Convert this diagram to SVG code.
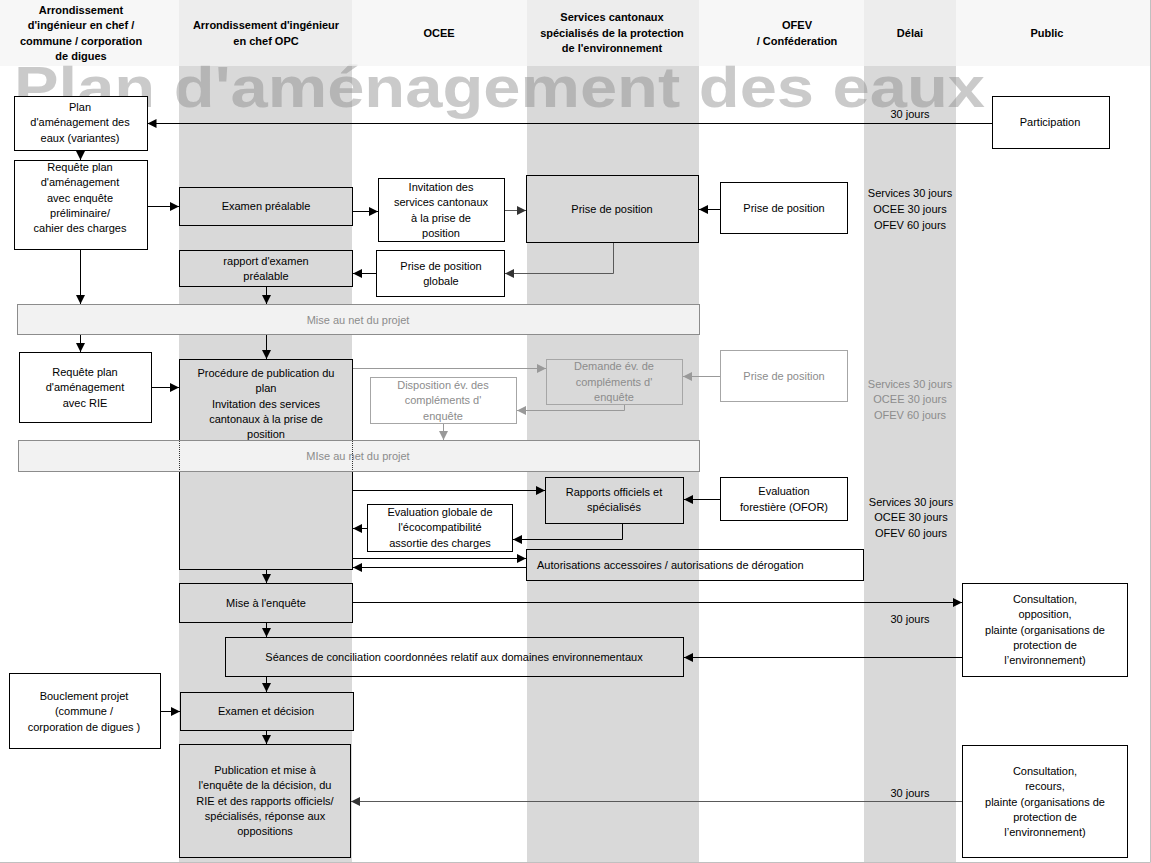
<svg xmlns="http://www.w3.org/2000/svg" width="1151" height="863" viewBox="0 0 1151 863">
<defs>
<style>
text{font-family:"Liberation Sans",Arial,sans-serif;font-size:11px;fill:#000;text-anchor:middle}
.h{font-weight:bold;font-size:11px}
.b{fill:#fff;stroke:#000;stroke-width:1}
.g{fill:#d9d9d9;stroke:#000;stroke-width:1}
.t{fill:none;stroke:#000;stroke-width:1}
.lg{fill:#fff;stroke:#a6a6a6;stroke-width:1}
.lgt{fill:#8c8c8c}
.band{fill:#f2f2f2;stroke:#8c8c8c;stroke-width:1}
.c{fill:none;stroke:#000;stroke-width:1;marker-end:url(#ah)}
.cd{fill:none;stroke:#595959;stroke-width:1;marker-end:url(#ahd)}
.cl{fill:none;stroke:#999;stroke-width:1;marker-end:url(#ahl)}
</style>
<marker id="ah" markerUnits="userSpaceOnUse" markerWidth="9" markerHeight="9" refX="9" refY="4.5" orient="auto"><path d="M0,0 L9,4.5 L0,9 z" fill="#000"/></marker>
<marker id="ahd" markerUnits="userSpaceOnUse" markerWidth="9" markerHeight="9" refX="9" refY="4.5" orient="auto"><path d="M0,0 L9,4.5 L0,9 z" fill="#333"/></marker>
<marker id="ahl" markerUnits="userSpaceOnUse" markerWidth="9" markerHeight="9" refX="9" refY="4.5" orient="auto"><path d="M0,0 L9,4.5 L0,9 z" fill="#999"/></marker>
</defs>
<rect x="0" y="0" width="1151" height="863" fill="#fff"/>
<g id="lanes">
<rect x="179" y="0" width="173" height="863" fill="#d9d9d9"/>
<rect x="527" y="0" width="172" height="863" fill="#d9d9d9"/>
<rect x="864" y="0" width="92" height="863" fill="#d9d9d9"/>
</g>
<text x="14" y="107" style="font-size:58px;font-weight:bold;text-anchor:start;fill:#8a8a8a;fill-opacity:0.45" textLength="971" lengthAdjust="spacingAndGlyphs">Plan d'aménagement des eaux</text>
<rect x="0" y="0" width="1151" height="66" fill="#f4f4f4" fill-opacity="0.72"/>
<g id="header">
<text class="h" x="81" y="14">Arrondissement</text>
<text class="h" x="81" y="29">d'ingénieur en chef /</text>
<text class="h" x="81" y="45">commune / corporation</text>
<text class="h" x="81" y="60">de digues</text>
<text class="h" x="266" y="29">Arrondissement d'ingénieur</text>
<text class="h" x="266" y="45">en chef OPC</text>
<text class="h" x="439" y="37">OCEE</text>
<text class="h" x="612" y="21">Services cantonaux</text>
<text class="h" x="612" y="37">spécialisés de la protection</text>
<text class="h" x="612" y="52">de l'environnement</text>
<text class="h" x="797" y="29">OFEV</text>
<text class="h" x="797" y="45">/ Conféderation</text>
<text class="h" x="910" y="37">Délai</text>
<text class="h" x="1047" y="37">Public</text>
</g>
<g id="n-plan"><rect class="b" x="14.5" y="96.5" width="133" height="54"/>
<text x="80" y="111">Plan</text><text x="80" y="126">d'aménagement des</text><text x="80" y="142">eaux (variantes)</text></g>
<g id="n-participation"><rect class="b" x="992.5" y="96.5" width="117" height="52"/>
<text x="1050" y="126">Participation</text></g>
<g id="n-requete1"><rect class="b" x="14.5" y="160.5" width="133" height="89"/>
<text x="80" y="171">Requête  plan</text><text x="80" y="186">d'aménagement</text><text x="80" y="202">avec enquête</text><text x="80" y="217">préliminaire/</text><text x="80" y="232">cahier des charges</text></g>
<g id="n-examen"><rect class="g" x="179.5" y="187.5" width="173" height="38"/>
<text x="266" y="210">Examen préalable</text></g>
<g id="n-invitation"><rect class="b" x="378.5" y="178.5" width="126" height="63"/>
<text x="441" y="191">Invitation des</text><text x="441" y="206">services cantonaux</text><text x="441" y="222">à la prise de</text><text x="441" y="237">position</text></g>
<g id="n-prise-svc"><rect class="g" x="526.5" y="175.5" width="172" height="67"/>
<text x="612" y="213">Prise de position</text></g>
<g id="n-prise-ofev"><rect class="b" x="720.5" y="182.5" width="127" height="51"/>
<text x="784" y="212">Prise de position</text></g>
<g id="n-delai1"><text x="910" y="197">Services 30 jours</text><text x="910" y="213">OCEE 30 jours</text><text x="910" y="229">OFEV 60 jours</text></g>
<g id="n-rapport"><rect class="g" x="179.5" y="250.5" width="173" height="36"/>
<text x="266" y="265">rapport d'examen</text><text x="266" y="280">préalable</text></g>
<g id="n-globale"><rect class="b" x="376.5" y="250.5" width="128" height="46"/>
<text x="441" y="270">Prise de position</text><text x="441" y="285">globale</text></g>
<g id="n-miseaunet1"><rect class="band" x="17.5" y="304.5" width="682" height="30"/>
<text x="358" y="324" class="lgt">Mise au net du projet</text></g>
<g id="n-requete2"><rect class="b" x="19.5" y="352.5" width="132" height="70"/>
<text x="85" y="376">Requête  plan</text><text x="85" y="391">d'aménagement</text><text x="85" y="407">avec  RIE</text></g>
<g id="n-procedure"><rect class="g" x="179.5" y="359.5" width="173" height="210"/>
<text x="266" y="377">Procédure de publication du</text><text x="266" y="392">plan</text><text x="266" y="408">Invitation des services</text><text x="266" y="423">cantonaux à la prise de</text><text x="266" y="438">position</text></g>
<g id="n-miseaunet2"><rect class="band" x="18.5" y="440.5" width="681" height="31"/>
<line x1="179.5" y1="441" x2="179.5" y2="471" stroke="#333" stroke-dasharray="1,1"/>
<line x1="352.5" y1="441" x2="352.5" y2="471" stroke="#333" stroke-dasharray="1,1"/>
<text x="358" y="460" class="lgt">MIse au net du projet</text></g>
<g id="n-demande"><rect class="lg" x="546.5" y="359.5" width="136" height="45" style="fill:none"/>
<text x="614" y="370" class="lgt">Demande év. de</text><text x="614" y="386" class="lgt">compléments d'</text><text x="614" y="401" class="lgt">enquête</text></g>
<g id="n-disposition"><rect class="lg" x="370.5" y="377.5" width="146" height="46"/>
<text x="443" y="389" class="lgt">Disposition év. des</text><text x="443" y="404" class="lgt">compléments d'</text><text x="443" y="420" class="lgt">enquête</text></g>
<g id="n-prise-ofev2"><rect class="lg" x="720.5" y="350.5" width="127" height="51"/>
<text x="784" y="380" class="lgt">Prise de position</text></g>
<g id="n-delai2"><text x="910" y="388" class="lgt">Services 30 jours</text><text x="910" y="403" class="lgt">OCEE 30 jours</text><text x="910" y="419" class="lgt">OFEV 60 jours</text></g>
<g id="n-rapports"><rect class="g" x="545.5" y="477.5" width="138" height="46"/>
<text x="614" y="496">Rapports officiels et</text><text x="614" y="511">spécialisés</text></g>
<g id="n-forestiere"><rect class="b" x="720.5" y="477.5" width="127" height="43"/>
<text x="784" y="495">Evaluation</text><text x="784" y="511">forestière  (OFOR)</text></g>
<g id="n-delai3"><text x="911" y="506">Services 30 jours</text><text x="911" y="521">OCEE 30 jours</text><text x="911" y="537">OFEV 60 jours</text></g>
<g id="n-evaluation"><rect class="b" x="367.5" y="504.5" width="145" height="47"/>
<text x="440" y="516">Evaluation globale de</text><text x="440" y="531">l'écocompatibilité</text><text x="440" y="547">assortie des charges</text></g>
<g id="n-autorisations"><rect class="t" x="526.5" y="549.5" width="337" height="31"/>
<text x="537" y="569" style="text-anchor:start">Autorisations accessoires  / autorisations de dérogation</text></g>
<g id="n-enquete"><rect class="g" x="179.5" y="583.5" width="173" height="39"/>
<text x="266" y="607">Mise à l'enquête</text></g>
<g id="n-consultation1"><rect class="b" x="962.5" y="583.5" width="165" height="93"/>
<text x="1045" y="603">Consultation,</text><text x="1045" y="618">opposition,</text><text x="1045" y="634">plainte (organisations de</text><text x="1045" y="649">protection de</text><text x="1045" y="664">l’environnement)</text></g>
<g id="n-seances"><rect class="t" x="225.5" y="637.5" width="458" height="39"/>
<text x="454" y="661">Séances de conciliation coordonnées relatif aux domaines environnementaux</text></g>
<g id="n-decision"><rect class="g" x="180.5" y="692.5" width="173" height="38"/>
<text x="266" y="715">Examen et décision</text></g>
<g id="n-bouclement"><rect class="b" x="9.5" y="673.5" width="151" height="75"/>
<text x="84" y="700">Bouclement projet</text><text x="84" y="715">(commune /</text><text x="84" y="731">corporation de digues )</text></g>
<g id="n-publication"><rect class="g" x="179.5" y="744.5" width="171" height="113"/>
<text x="265" y="774">Publication et mise à</text><text x="265" y="789">l'enquête de la décision, du</text><text x="265" y="805">RIE et des rapports officiels/</text><text x="265" y="820">spécialisés, réponse aux</text><text x="265" y="835">oppositions</text></g>
<g id="n-consultation2"><rect class="b" x="962.5" y="745.5" width="165" height="112"/>
<text x="1045" y="775">Consultation,</text><text x="1045" y="790">recours,</text><text x="1045" y="806">plainte (organisations de</text><text x="1045" y="821">protection de</text><text x="1045" y="836">l’environnement)</text></g>
<g id="delays">
<text x="910" y="118">30 jours</text>
<text x="910" y="623">30 jours</text>
<text x="910" y="797">30 jours</text>
</g>
<g id="connectors">
<path class="c" d="M992,123.5 H147.5"/>
<path class="c" d="M80.5,151 V160"/>
<path class="c" d="M148,206.5 H179"/>
<path class="c" d="M353,211.5 H378"/>
<path class="cd" d="M505,210.5 H526"/>
<path class="c" d="M720,209.5 H699"/>
<path class="cd" d="M613.5,243 V273.5 H505"/>
<path class="c" d="M376,273.5 H353"/>
<path class="c" d="M80.5,250 V304"/>
<path class="c" d="M266.5,287 V304"/>
<path class="c" d="M80.5,335 V352"/>
<path class="c" d="M266.5,335 V359"/>
<path class="c" d="M152,387.5 H179"/>
<path class="cl" d="M353,368.5 H546"/>
<path class="cl" d="M720,376.5 H683"/>
<path class="cl" d="M624.5,405 V410.5 H517"/>
<path class="cl" d="M443.5,424 V440"/>
<path class="c" d="M353,490.5 H545"/>
<path class="c" d="M720,499.5 H684"/>
<path class="c" d="M622.5,524 V539.5 H513"/>
<path class="c" d="M367,528.5 H353"/>
<path class="c" d="M353,558.5 H526"/>
<path class="c" d="M526,567.5 H353"/>
<path class="c" d="M266.5,570 V583"/>
<path class="c" d="M353,602.5 H962"/>
<path class="c" d="M266.5,623 V637"/>
<path class="c" d="M962,657.5 H684"/>
<path class="c" d="M266.5,677 V692"/>
<path class="c" d="M161,711.5 H180"/>
<path class="c" d="M266.5,731 V744"/>
<path class="cd" d="M962,801.5 H351"/>
</g>
<path d="M1150.5,0 V862.5 H0" fill="none" stroke="#c0c0c0" stroke-width="1"/>
</svg>
